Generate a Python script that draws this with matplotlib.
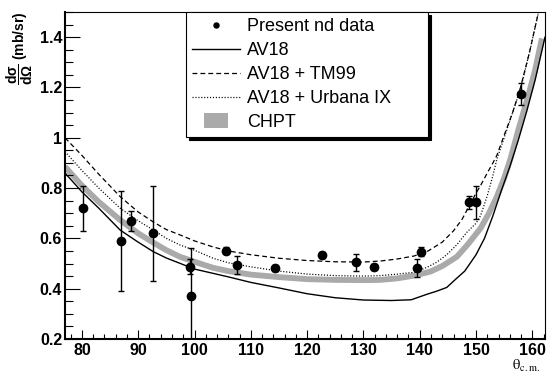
import matplotlib
matplotlib.use("Agg")
import matplotlib.pyplot as plt
from matplotlib.patches import Rectangle
from matplotlib.legend_handler import HandlerPatch
from matplotlib.ticker import MultipleLocator

plt.rcParams['font.family'] = ['Liberation Sans', 'DejaVu Sans']
plt.rcParams['mathtext.fontset'] = 'custom'
plt.rcParams['mathtext.rm'] = 'Liberation Sans:bold'
plt.rcParams['mathtext.bf'] = 'Liberation Sans:bold'
plt.rcParams['mathtext.default'] = 'rm'
plt.rcParams['lines.scale_dashes'] = False

# measured nd cross sections
theta = [80.2, 87.0, 88.8, 92.7, 99.2, 99.3, 105.6, 107.6, 114.3, 122.7,
         128.7, 131.8, 139.5, 140.3, 148.7, 150.0, 158.0]
xsec = [0.72, 0.59, 0.668, 0.62, 0.488, 0.37, 0.551, 0.493, 0.482, 0.534,
        0.505, 0.485, 0.482, 0.547, 0.744, 0.744, 1.173]
xsec_err = [0.09, 0.20, 0.04, 0.19, 0.03, 0.19, 0.015, 0.035, 0.012, 0.013,
            0.033, 0.012, 0.036, 0.018, 0.026, 0.066, 0.044]

# AV18
av18_x = [77, 80, 83, 86.8, 90, 92.7, 95, 97.4, 100, 103.3, 106, 110, 115, 120,
          125, 130, 135, 138.5, 141.3, 143, 144.8, 146.5, 148, 150, 151.5, 153,
          154.5, 156, 157.5, 159, 160.5, 162.25]
av18_y = [0.86, 0.785, 0.72, 0.633, 0.585, 0.547, 0.522, 0.501, 0.478, 0.461,
          0.447, 0.425, 0.403, 0.38, 0.364, 0.355, 0.353, 0.356, 0.378, 0.39,
          0.405, 0.44, 0.47, 0.535, 0.6, 0.69, 0.79, 0.885, 0.99, 1.105, 1.23, 1.40]

# AV18 + TM99
tm99_x = [77, 80, 83, 86.8, 90, 92.7, 95, 97.4, 100, 103.3, 106, 110, 115, 120,
          125, 130, 133, 136, 139, 141.5, 144, 146, 147.5, 148.7, 150, 150.8, 152,
          153, 153.7, 155, 156.5, 157.9, 159.5, 161.1]
tm99_y = [1.0, 0.93, 0.855, 0.766, 0.705, 0.665, 0.635, 0.614, 0.59, 0.566,
          0.55, 0.535, 0.521, 0.512, 0.507, 0.506, 0.51, 0.518, 0.53, 0.55,
          0.585, 0.63, 0.675, 0.725, 0.78, 0.81, 0.86, 0.9, 0.93, 1.01, 1.1,
          1.2, 1.34, 1.5]

# AV18 + Urbana IX
urb_x = [77, 80, 83, 86.8, 90, 92.7, 95, 97.4, 100, 103.3, 106, 110, 115, 120,
         125, 130, 133, 136, 139, 141.3, 143, 144.8, 146.6, 148.4, 150, 150.8,
         152, 153, 153.7, 155, 156.5, 157.9, 159.5, 161.1]
urb_y = [0.945, 0.87, 0.8, 0.72, 0.67, 0.633, 0.6, 0.574, 0.553, 0.521, 0.503,
         0.487, 0.47, 0.458, 0.452, 0.45, 0.452, 0.458, 0.465, 0.485, 0.505,
         0.535, 0.575, 0.625, 0.66, 0.69, 0.77, 0.85, 0.915, 1.0, 1.1, 1.195,
         1.34, 1.5]

# CHPT band
chpt_x = [77, 80, 83, 86.8, 90, 92.7, 95, 97.4, 100, 103.3, 106, 110, 115, 120,
          125, 130, 133, 136, 139, 141.9, 144, 146.6, 148.5, 150.8, 152.3, 153.7,
          155, 156.1, 157.5, 159.4, 160.5, 161.7]
chpt_y = [0.885, 0.81, 0.745, 0.673, 0.62, 0.583, 0.553, 0.527, 0.507, 0.483,
          0.47, 0.456, 0.446, 0.438, 0.435, 0.434, 0.435, 0.441, 0.452, 0.468,
          0.49, 0.527, 0.575, 0.64, 0.7, 0.766, 0.84, 0.915, 1.03, 1.177, 1.27,
          1.395]

fig = plt.figure(figsize=(5.49, 3.74), dpi=100)
ax = fig.add_axes([65 / 549, 1 - 339 / 374, 480 / 549, 327 / 374])

band, = ax.plot(chpt_x, chpt_y, color='#aaaaaa', lw=4.2, solid_capstyle='butt', zorder=1)
l1, = ax.plot(av18_x, av18_y, color='black', lw=1.0, zorder=2)
l2, = ax.plot(tm99_x, tm99_y, color='black', lw=0.9, ls=(0, (3.5, 2.2)), zorder=2)
l3, = ax.plot(urb_x, urb_y, color='black', lw=0.9, ls=(0, (0.8, 1.3)), zorder=2)
eb = ax.errorbar(theta, xsec, yerr=xsec_err, fmt='o', color='black', ms=6,
                 elinewidth=1.0, capsize=2, capthick=1.0, zorder=4)

ax.set_xlim(77, 162.25)
ax.set_ylim(0.2, 1.5)
ax.xaxis.set_major_locator(MultipleLocator(10))
ax.xaxis.set_minor_locator(MultipleLocator(2))
ax.yaxis.set_minor_locator(MultipleLocator(0.05))
ax.set_yticks([0.2, 0.4, 0.6, 0.8, 1.0, 1.2, 1.4])
ax.set_yticklabels(['0.2', '0.4', '0.6', '0.8', '1', '1.2', '1.4'])
ax.tick_params(axis='x', which='major', direction='in', length=6.7, width=0.8, pad=3,
               top=False, labelsize=11.5)
ax.tick_params(axis='x', which='minor', direction='in', length=3.8, width=0.8, top=False)
ax.tick_params(axis='y', which='major', direction='in', length=10.8, width=0.8, pad=2,
               right=False, labelsize=11.5)
ax.tick_params(axis='y', which='minor', direction='in', length=5.5, width=0.8, right=False)
for lab in ax.get_xticklabels() + ax.get_yticklabels():
    lab.set_fontweight('bold')
ax.spines['left'].set_linewidth(1.5)
ax.spines['bottom'].set_linewidth(1.5)
ax.spines['top'].set_linewidth(0.8)
ax.spines['right'].set_linewidth(0.8)

fig.text(35 / 549, 1 - 12 / 374, r'$\dfrac{d\sigma}{d\Omega}$ (mb/sr)', rotation=90,
         ha='right', va='top', fontsize=10, fontweight='bold')
fig.text(540 / 549, 0.0, r'$\theta_{\rm c.m.}$', ha='right', va='bottom',
         fontsize=10.5, math_fontfamily='stix')


def small_box(legend, orig_handle, xdescent, ydescent, width, height, fontsize):
    w = width * 0.5
    return Rectangle((xdescent + width / 2 - w / 2, -ydescent - 0.1 * height), w, height * 1.2)


chpt_proxy = Rectangle((0, 0), 1, 1, facecolor='#aaaaaa', edgecolor='none')
leg = ax.legend([eb.lines[0], l1, l2, l3, chpt_proxy],
                ['Present nd data', 'AV18', 'AV18 + TM99', 'AV18 + Urbana IX', 'CHPT'],
                loc='upper left', bbox_to_anchor=(0.252, 1.0, 0.504, 0.0), mode='expand',
                borderaxespad=0, fontsize=13, handlelength=2.65, handletextpad=0.4,
                labelspacing=0.38, borderpad=0.35, markerscale=0.6, numpoints=1,
                fancybox=False, framealpha=1, edgecolor='black',
                shadow={'color': 'black', 'alpha': 1},
                handler_map={Rectangle: HandlerPatch(patch_func=small_box)})
leg.get_frame().set_linewidth(0.8)
leg.set_zorder(10)

fig.savefig('out.png', dpi=100)
